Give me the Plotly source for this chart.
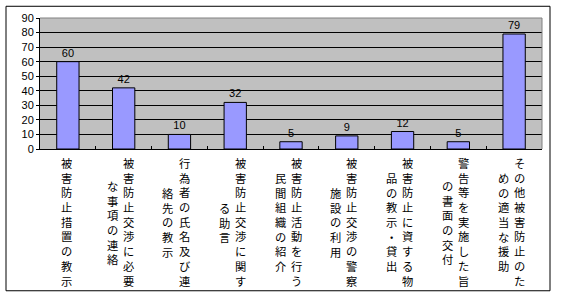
import plotly.graph_objects as go

categories = [
    "被害防止措置の教示",
    "被害防止交渉に必要な事項の連絡",
    "行為者の氏名及び連絡先の教示",
    "被害防止交渉に関する助言",
    "被害防止活動を行う民間組織の紹介",
    "被害防止交渉の警察施設の利用",
    "被害防止に資する物品の教示・貸出",
    "警告等を実施した旨の書面の交付",
    "その他被害防止のための適当な援助",
]
values = [60, 42, 10, 32, 5, 9, 12, 5, 79]
y_ticks = [0, 10, 20, 30, 40, 50, 60, 70, 80, 90]

W, H = 561, 306
L, R, T, B = 40, 19, 15, 157
pw, ph = W - L - R, H - T - B

fig = go.Figure()
fig.add_trace(go.Bar(
    x=categories, y=values,
    marker=dict(color="#9999ff", line=dict(color="#000000", width=1)),
    text=[str(v) for v in values], textposition="outside",
    textfont=dict(family="Liberation Sans, Arial", size=11, color="#000000"),
    cliponaxis=False, width=0.4,
))

# vertical Japanese category labels (columns of 9 characters, right to left)
annotations = []
for cat in categories:
    cols = [cat[i:i + 9] for i in range(0, len(cat), 9)]
    if len(cols) == 1:
        shifts = [-1]
    else:
        shifts = [5, -11]
    for col, sh in zip(cols, shifts):
        annotations.append(dict(
            x=cat, xref="x", y=(149 - 224) / ph, yref="paper",
            text="<br>".join(col), showarrow=False, xshift=sh,
            xanchor="center", yanchor="middle", align="center",
            font=dict(family="Noto Sans CJK JP", size=11.3, color="#000000"),
        ))

def px(x):
    return (x - L) / pw

def py(y):
    return (T + ph - y) / ph

shapes = [
    dict(type="rect", xref="paper", yref="paper",
         x0=px(6), x1=px(550), y0=py(3), y1=py(294),
         line=dict(color="#000000", width=1), layer="below"),
    dict(type="line", xref="paper", yref="paper", x0=0, x1=1, y0=1, y1=1,
         line=dict(color="#808080", width=1), layer="above"),
    dict(type="line", xref="paper", yref="paper", x0=1, x1=1, y0=0, y1=1,
         line=dict(color="#808080", width=1), layer="above"),
]

fig.update_layout(
    width=W, height=H,
    margin=dict(l=L, r=R, t=T, b=B, pad=0),
    paper_bgcolor="#ffffff", plot_bgcolor="#c0c0c0",
    showlegend=False,
    annotations=annotations, shapes=shapes,
    xaxis=dict(
        type="category", showticklabels=False, showgrid=False,
        showline=True, linecolor="#000000", linewidth=1,
        ticks="inside", tickson="boundaries", ticklen=3, tickcolor="#000000",
        range=[-0.5, len(categories) - 0.5], fixedrange=True,
    ),
    yaxis=dict(
        range=[0, 90], tickvals=y_ticks, ticktext=[str(t) for t in y_ticks],
        showgrid=True, gridcolor="#000000", gridwidth=1,
        showline=True, linecolor="#000000", linewidth=1,
        ticks="outside", ticklen=3, tickcolor="#000000",
        tickfont=dict(family="Liberation Sans, Arial", size=11, color="#000000"),
        zeroline=False, fixedrange=True,
    ),
    bargap=0.6,
)

fig.write_html("out.html", config={"displayModeBar": False})
